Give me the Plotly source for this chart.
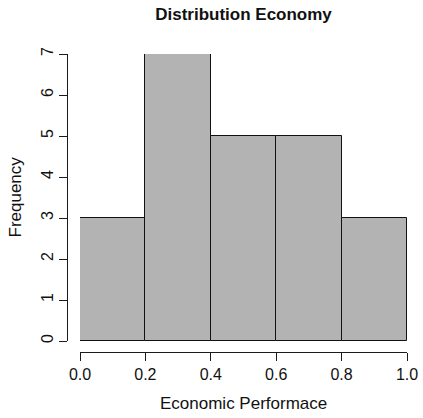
import plotly.graph_objects as go

# Histogram bins and counts
breaks = [0.0, 0.2, 0.4, 0.6, 0.8, 1.0]
counts = [3, 7, 5, 5, 3]
x_ticks = [0.0, 0.2, 0.4, 0.6, 0.8, 1.0]
x_tick_labels = ["0.0", "0.2", "0.4", "0.6", "0.8", "1.0"]
y_ticks = [0, 1, 2, 3, 4, 5, 6, 7]

W, H = 423, 418
centers = [(a + b) / 2 for a, b in zip(breaks[:-1], breaks[1:])]
widths = [b - a for a, b in zip(breaks[:-1], breaks[1:])]

# plot region in pixels
left, right = 80, 407
top, bottom = 54, 341
x_axis_y = 352
y_axis_x = 67

axis_color = "#1a1a1a"
font_family = "Liberation Sans, Arial, Helvetica, sans-serif"

fig = go.Figure(
    go.Bar(
        x=centers,
        y=counts,
        width=widths,
        marker=dict(color="#b3b3b3", line=dict(color="#111111", width=1)),
        hoverinfo="x+y",
    )
)

fig.update_layout(
    width=W,
    height=H,
    autosize=False,
    margin=dict(l=0, r=0, t=0, b=0),
    paper_bgcolor="white",
    plot_bgcolor="white",
    showlegend=False,
    bargap=0,
    font=dict(family=font_family, color="#111111"),
    title=dict(
        text="<b>Distribution Economy</b>",
        x=(left + right) / 2 / W,
        xanchor="center",
        xref="paper",
        y=1 - 14 / H,
        yref="container",
        yanchor="middle",
        font=dict(size=17, family=font_family, color="#111111"),
    ),
    xaxis=dict(
        domain=[left / W, right / W],
        range=[breaks[0], breaks[-1]],
        anchor="free",
        position=1 - x_axis_y / H,
        showgrid=False,
        zeroline=False,
        showline=True,
        linecolor=axis_color,
        linewidth=1,
        ticks="outside",
        ticklen=8,
        tickwidth=1,
        tickcolor=axis_color,
        tickvals=x_ticks,
        ticktext=x_tick_labels,
        tickfont=dict(size=16, family=font_family, color="#111111"),
        automargin=False,
    ),
    yaxis=dict(
        domain=[1 - bottom / H, 1 - top / H],
        range=[0, max(y_ticks)],
        anchor="free",
        position=y_axis_x / W,
        showgrid=False,
        zeroline=False,
        showline=True,
        linecolor=axis_color,
        linewidth=1,
        ticks="outside",
        ticklen=8,
        tickwidth=1,
        tickcolor=axis_color,
        tickvals=y_ticks,
        tickangle=-90,
        tickfont=dict(size=16, family=font_family, color="#111111"),
        automargin=False,
    ),
    annotations=[
        dict(
            text="Economic Performace",
            x=(left + right) / 2 / W,
            y=1 - 403 / H,
            xref="paper",
            yref="paper",
            xanchor="center",
            yanchor="middle",
            showarrow=False,
            font=dict(size=17, family=font_family, color="#111111"),
        ),
        dict(
            text="Frequency",
            x=15 / W,
            y=1 - (top + bottom) / 2 / H,
            xref="paper",
            yref="paper",
            xanchor="center",
            yanchor="middle",
            textangle=-90,
            showarrow=False,
            font=dict(size=17, family=font_family, color="#111111"),
        ),
    ],
)

fig.write_html("out.html")
